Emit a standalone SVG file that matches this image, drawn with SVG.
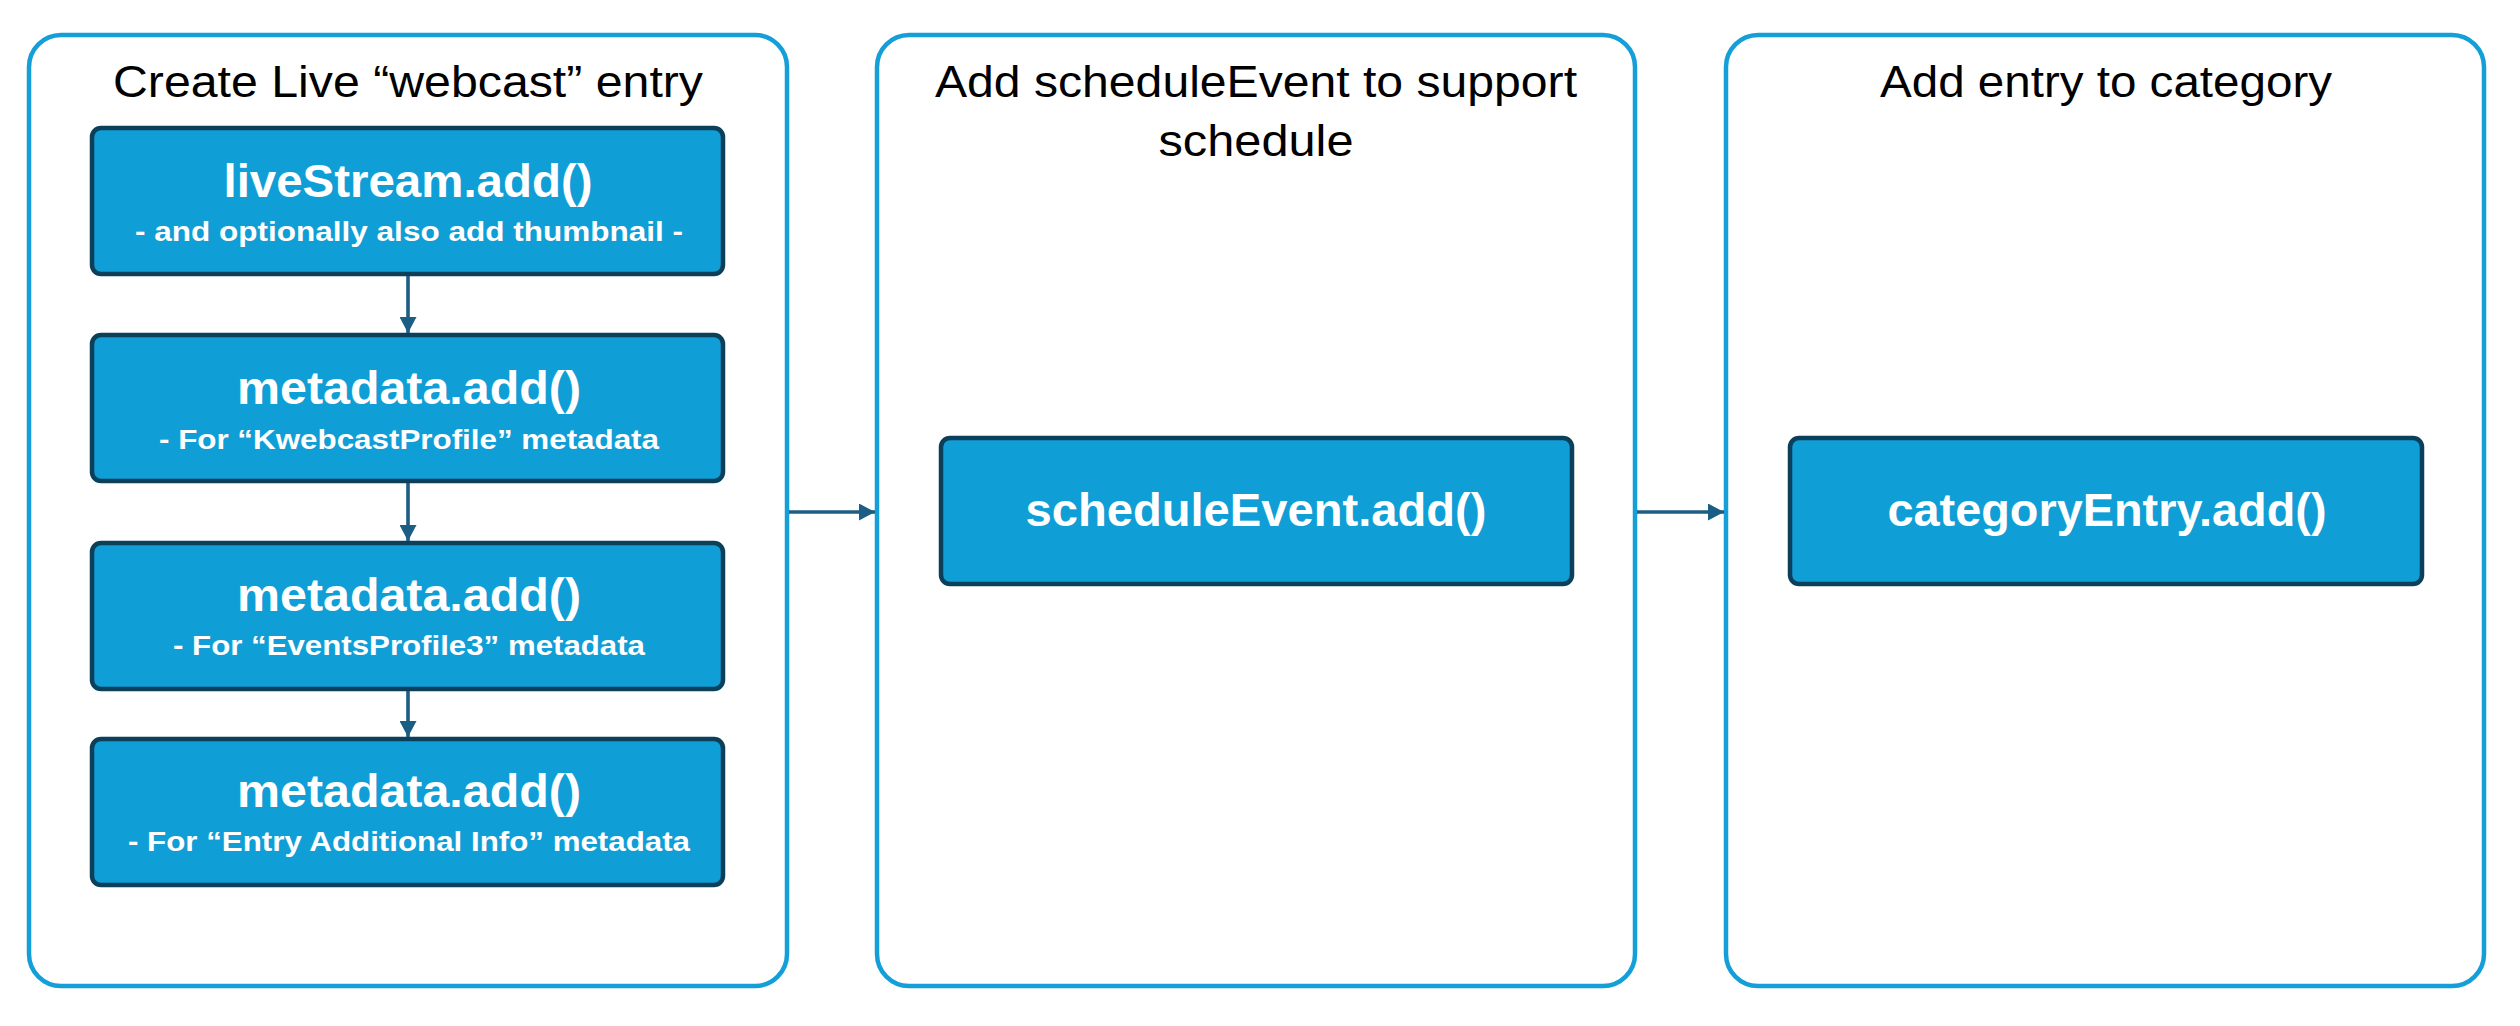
<svg xmlns="http://www.w3.org/2000/svg" width="2520" height="1026" viewBox="0 0 2520 1026">
<defs>
<style>
.container{fill:#ffffff;stroke:#159fd8;stroke-width:4.5}
.box{fill:#109ed6;stroke:#0b3f5a;stroke-width:4.5}
.title{font-family:"Liberation Sans",Arial,sans-serif;font-size:45px;fill:#000000;text-anchor:middle}
.main{font-family:"Liberation Sans",Arial,sans-serif;font-weight:bold;font-size:47px;fill:#ffffff;text-anchor:middle}
.sub{font-family:"Liberation Sans",Arial,sans-serif;font-weight:bold;font-size:28px;fill:#ffffff;text-anchor:middle}
.conn{stroke:#1b5d83;stroke-width:3.6;fill:none}
</style>
<marker id="arrow" viewBox="0 0 16 17" refX="16" refY="8.5" markerWidth="16" markerHeight="17" markerUnits="userSpaceOnUse" orient="auto">
<path d="M0,0 L16,8.5 L0,17 Z" fill="#1b5d83"/>
</marker>
</defs>
<rect width="2520" height="1026" fill="#ffffff"/>

<g id="group-create">
<rect class="container" x="29" y="35" width="758" height="951" rx="32"/>
<text class="title" x="408" y="97" textLength="590" lengthAdjust="spacingAndGlyphs">Create Live “webcast” entry</text>
</g>
<g id="group-schedule">
<rect class="container" x="877" y="35" width="758" height="951" rx="32"/>
<text class="title" x="1256" y="97" textLength="642" lengthAdjust="spacingAndGlyphs">Add scheduleEvent to support</text>
<text class="title" x="1256" y="156" textLength="195" lengthAdjust="spacingAndGlyphs">schedule</text>
</g>
<g id="group-category">
<rect class="container" x="1726" y="35" width="758" height="951" rx="32"/>
<text class="title" x="2106" y="97" textLength="452" lengthAdjust="spacingAndGlyphs">Add entry to category</text>
</g>

<g id="node-livestream">
<rect class="box" x="92" y="128" width="631" height="146" rx="9"/>
<text class="main" x="408" y="197" textLength="369" lengthAdjust="spacingAndGlyphs">liveStream.add()</text>
<text class="sub" x="409" y="241" textLength="548" lengthAdjust="spacingAndGlyphs">- and optionally also add thumbnail -</text>
</g>
<g id="node-metadata1">
<rect class="box" x="92" y="335" width="631" height="146" rx="9"/>
<text class="main" x="409" y="404" textLength="344" lengthAdjust="spacingAndGlyphs">metadata.add()</text>
<text class="sub" x="409" y="449" textLength="500" lengthAdjust="spacingAndGlyphs">- For “KwebcastProfile” metadata</text>
</g>
<g id="node-metadata2">
<rect class="box" x="92" y="543" width="631" height="146" rx="9"/>
<text class="main" x="409" y="611" textLength="344" lengthAdjust="spacingAndGlyphs">metadata.add()</text>
<text class="sub" x="409" y="655" textLength="472" lengthAdjust="spacingAndGlyphs">- For “EventsProfile3” metadata</text>
</g>
<g id="node-metadata3">
<rect class="box" x="92" y="739" width="631" height="146" rx="9"/>
<text class="main" x="409" y="807" textLength="344" lengthAdjust="spacingAndGlyphs">metadata.add()</text>
<text class="sub" x="409" y="851" textLength="562" lengthAdjust="spacingAndGlyphs">- For “Entry Additional Info” metadata</text>
</g>
<g id="node-scheduleevent">
<rect class="box" x="941" y="438" width="631" height="146" rx="9"/>
<text class="main" x="1256" y="526" textLength="461" lengthAdjust="spacingAndGlyphs">scheduleEvent.add()</text>
</g>
<g id="node-categoryentry">
<rect class="box" x="1790" y="438" width="632" height="146" rx="9"/>
<text class="main" x="2107" y="526" textLength="439" lengthAdjust="spacingAndGlyphs">categoryEntry.add()</text>
</g>

<g id="connectors">
<line class="conn" x1="408" y1="276" x2="408" y2="333" marker-end="url(#arrow)"/>
<line class="conn" x1="408" y1="483" x2="408" y2="541" marker-end="url(#arrow)"/>
<line class="conn" x1="408" y1="691" x2="408" y2="737" marker-end="url(#arrow)"/>
<line class="conn" x1="789" y1="512" x2="875" y2="512" marker-end="url(#arrow)"/>
<line class="conn" x1="1637" y1="512" x2="1724" y2="512" marker-end="url(#arrow)"/>
</g>
</svg>
